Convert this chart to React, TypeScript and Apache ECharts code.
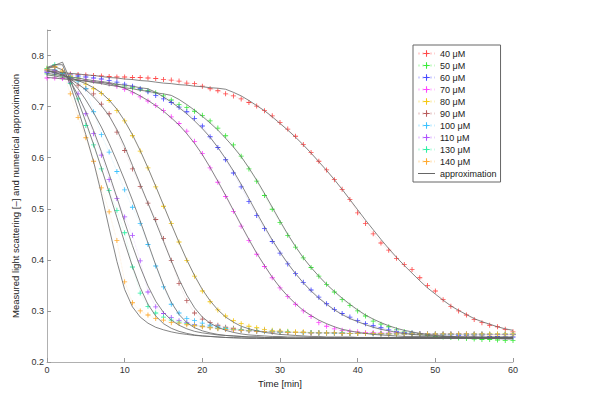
import React, { useEffect, useRef } from 'react';
import * as echarts from 'echarts';

const minutes = [0,1,2,3,4,5,6,7,8,9,10,11,12,13,14,15,16,17,18,19,20,21,22,23,24,25,26,27,28,29,30,31,32,33,34,35,36,37,38,39,40,41,42,43,44,45,46,47,48,49,50,51,52,53,54,55,56,57,58,59,60];

const concentrations = ['40 μM','50 μM','60 μM','70 μM','80 μM','90 μM','100 μM','110 μM','130 μM','140 μM'];

const m40 = [0.770,0.768,0.765,0.764,0.763,0.762,0.761,0.760,0.759,0.758,
 0.758,0.757,0.757,0.756,0.755,0.753,0.752,0.750,0.746,0.745,
 0.740,0.735,0.731,0.725,0.721,0.715,0.708,0.701,0.692,0.682,
 0.669,0.656,0.642,0.626,0.610,0.593,0.576,0.557,0.538,0.518,
 0.492,0.471,0.451,0.433,0.419,0.403,0.391,0.381,0.365,0.350,
 0.339,0.322,0.309,0.300,0.292,0.283,0.277,0.272,0.269,0.264,
 0.259];
const m50 = [0.764,0.762,0.760,0.758,0.756,0.752,0.750,0.748,0.745,0.743,
 0.740,0.737,0.734,0.731,0.727,0.721,0.713,0.704,0.698,0.691,
 0.683,0.672,0.658,0.643,0.625,0.603,0.578,0.554,0.526,0.499,
 0.473,0.448,0.425,0.404,0.385,0.368,0.352,0.337,0.322,0.311,
 0.300,0.290,0.280,0.274,0.269,0.263,0.259,0.257,0.254,0.252,
 0.250,0.249,0.248,0.247,0.246,0.245,0.244,0.244,0.243,0.242,
 0.242];
const m60 = [0.767,0.766,0.764,0.762,0.760,0.758,0.756,0.754,0.751,0.748,
 0.744,0.740,0.735,0.729,0.722,0.715,0.708,0.699,0.690,0.677,
 0.662,0.641,0.620,0.596,0.570,0.543,0.514,0.487,0.461,0.436,
 0.413,0.392,0.373,0.356,0.341,0.327,0.314,0.303,0.295,0.288,
 0.281,0.275,0.271,0.267,0.263,0.260,0.258,0.257,0.256,0.255,
 0.254,0.253,0.253,0.252,0.252,0.251,0.251,0.250,0.250,0.249,
 0.249];
const m70 = [0.756,0.756,0.755,0.754,0.753,0.752,0.750,0.748,0.745,0.740,
 0.734,0.727,0.719,0.711,0.702,0.692,0.680,0.667,0.652,0.632,
 0.608,0.580,0.552,0.524,0.495,0.466,0.438,0.411,0.387,0.365,
 0.345,0.328,0.313,0.300,0.289,0.277,0.270,0.265,0.262,0.260,
 0.259,0.258,0.258,0.257,0.257,0.257,0.256,0.256,0.256,0.256,
 0.255,0.255,0.255,0.255,0.255,0.254,0.254,0.254,0.254,0.254,
 0.254];
const m80 = [0.775,0.778,0.768,0.760,0.752,0.744,0.735,0.726,0.712,0.692,
 0.672,0.643,0.613,0.580,0.543,0.505,0.471,0.435,0.399,0.368,
 0.339,0.318,0.302,0.290,0.281,0.275,0.270,0.267,0.264,0.262,
 0.261,0.260,0.259,0.259,0.258,0.258,0.257,0.257,0.257,0.256,
 0.256,0.256,0.256,0.255,0.255,0.255,0.255,0.255,0.254,0.254,
 0.254,0.254,0.254,0.254,0.253,0.253,0.253,0.253,0.253,0.253,
 0.253];
const m90 = [0.772,0.770,0.762,0.752,0.742,0.735,0.725,0.705,0.686,0.650,
 0.614,0.578,0.544,0.511,0.479,0.442,0.399,0.354,0.320,0.296,
 0.284,0.277,0.272,0.268,0.266,0.264,0.262,0.261,0.260,0.259,
 0.259,0.258,0.258,0.258,0.257,0.257,0.257,0.257,0.256,0.256,
 0.256,0.256,0.256,0.255,0.255,0.255,0.255,0.255,0.255,0.255,
 0.254,0.254,0.254,0.254,0.254,0.254,0.254,0.254,0.254,0.254,
 0.254];
const m100 = [0.770,0.772,0.765,0.757,0.750,0.735,0.690,0.645,0.611,0.573,
 0.537,0.503,0.471,0.430,0.388,0.347,0.313,0.296,0.285,0.281,
 0.276,0.272,0.269,0.266,0.264,0.262,0.261,0.260,0.259,0.259,
 0.258,0.258,0.258,0.257,0.257,0.257,0.257,0.256,0.256,0.256,
 0.256,0.256,0.255,0.255,0.255,0.255,0.255,0.255,0.255,0.255,
 0.255,0.254,0.254,0.254,0.254,0.254,0.254,0.254,0.254,0.254,
 0.254];
const m110 = [0.768,0.770,0.762,0.748,0.725,0.686,0.647,0.605,0.557,0.520,
 0.484,0.448,0.398,0.337,0.308,0.295,0.287,0.281,0.277,0.273,
 0.270,0.268,0.266,0.264,0.263,0.262,0.261,0.260,0.260,0.259,
 0.259,0.258,0.258,0.258,0.257,0.257,0.257,0.257,0.257,0.256,
 0.256,0.256,0.256,0.256,0.256,0.256,0.255,0.255,0.255,0.255,
 0.255,0.255,0.255,0.255,0.255,0.255,0.255,0.254,0.254,0.254,
 0.254];
const m130 = [0.775,0.782,0.766,0.745,0.715,0.663,0.625,0.578,0.536,0.497,
 0.453,0.386,0.335,0.309,0.296,0.288,0.282,0.278,0.275,0.272,
 0.270,0.268,0.266,0.265,0.264,0.263,0.262,0.261,0.260,0.260,
 0.259,0.259,0.258,0.258,0.258,0.257,0.257,0.257,0.257,0.256,
 0.256,0.256,0.256,0.256,0.256,0.255,0.255,0.255,0.255,0.255,
 0.255,0.255,0.255,0.255,0.255,0.255,0.255,0.255,0.255,0.255,
 0.255];
const m140 = [0.772,0.778,0.770,0.725,0.679,0.639,0.593,0.541,0.494,0.438,
 0.357,0.316,0.300,0.292,0.285,0.282,0.277,0.276,0.273,0.271,
 0.269,0.267,0.265,0.264,0.263,0.262,0.261,0.260,0.260,0.259,
 0.259,0.258,0.258,0.258,0.257,0.257,0.257,0.257,0.256,0.256,
 0.256,0.256,0.256,0.256,0.255,0.255,0.255,0.255,0.255,0.255,
 0.255,0.255,0.255,0.255,0.255,0.255,0.255,0.255,0.255,0.255,
 0.255];

const a40 = [0.770,0.768,0.767,0.765,0.764,0.762,0.761,0.759,0.757,0.756,
 0.754,0.753,0.751,0.750,0.748,0.746,0.745,0.743,0.742,0.740,
 0.739,0.737,0.736,0.734,0.728,0.721,0.712,0.702,0.692,0.680,
 0.667,0.654,0.640,0.625,0.609,0.592,0.575,0.557,0.538,0.518,
 0.498,0.478,0.459,0.440,0.422,0.405,0.389,0.374,0.359,0.345,
 0.333,0.321,0.310,0.301,0.293,0.285,0.279,0.274,0.269,0.265,
 0.262];
const a50 = [0.762,0.760,0.757,0.755,0.752,0.750,0.747,0.745,0.742,0.740,
 0.737,0.735,0.732,0.730,0.727,0.725,0.722,0.714,0.704,0.693,
 0.681,0.668,0.654,0.638,0.621,0.602,0.580,0.556,0.530,0.503,
 0.476,0.450,0.426,0.404,0.385,0.368,0.352,0.338,0.325,0.313,
 0.302,0.292,0.284,0.277,0.271,0.266,0.262,0.259,0.256,0.254,
 0.252,0.251,0.250,0.249,0.248,0.247,0.247,0.246,0.246,0.245,
 0.245];
const a60 = [0.765,0.763,0.760,0.758,0.756,0.753,0.751,0.749,0.747,0.744,
 0.742,0.740,0.737,0.735,0.728,0.719,0.709,0.698,0.686,0.672,
 0.657,0.640,0.620,0.598,0.574,0.548,0.520,0.492,0.465,0.439,
 0.415,0.393,0.373,0.355,0.339,0.325,0.313,0.302,0.293,0.285,
 0.279,0.273,0.268,0.264,0.261,0.258,0.256,0.254,0.253,0.252,
 0.251,0.250,0.250,0.249,0.249,0.249,0.248,0.248,0.248,0.248,
 0.248];
const a70 = [0.757,0.756,0.754,0.753,0.751,0.750,0.748,0.747,0.745,0.741,
 0.736,0.729,0.721,0.712,0.702,0.691,0.678,0.664,0.647,0.628,
 0.606,0.581,0.554,0.526,0.497,0.468,0.440,0.413,0.389,0.366,
 0.346,0.329,0.314,0.301,0.291,0.282,0.275,0.269,0.264,0.261,
 0.258,0.256,0.254,0.253,0.252,0.251,0.250,0.250,0.250,0.250,
 0.249,0.249,0.249,0.249,0.249,0.249,0.249,0.249,0.249,0.249,
 0.249];
const a80 = [0.770,0.766,0.762,0.757,0.751,0.745,0.737,0.727,0.713,0.695,
 0.672,0.645,0.614,0.580,0.544,0.507,0.470,0.434,0.400,0.369,
 0.342,0.320,0.302,0.288,0.278,0.270,0.265,0.261,0.258,0.256,
 0.254,0.253,0.252,0.251,0.250,0.250,0.249,0.249,0.249,0.249,
 0.248,0.248,0.248,0.248,0.248,0.248,0.248,0.248,0.248,0.248,
 0.248,0.248,0.248,0.248,0.248,0.248,0.248,0.248,0.248,0.248,
 0.248];
const a90 = [0.770,0.767,0.762,0.754,0.744,0.733,0.719,0.702,0.682,0.655,
 0.622,0.585,0.548,0.511,0.474,0.436,0.398,0.362,0.331,0.306,
 0.288,0.276,0.268,0.262,0.258,0.255,0.253,0.252,0.251,0.250,
 0.250,0.249,0.249,0.249,0.248,0.248,0.248,0.248,0.248,0.248,
 0.248,0.248,0.248,0.248,0.248,0.248,0.248,0.248,0.248,0.248,
 0.248,0.248,0.248,0.248,0.248,0.248,0.248,0.248,0.248,0.248,
 0.248];
const a100 = [0.772,0.772,0.765,0.752,0.735,0.713,0.688,0.660,0.628,0.593,
 0.556,0.517,0.476,0.433,0.390,0.350,0.317,0.293,0.277,0.267,
 0.261,0.257,0.254,0.252,0.251,0.250,0.249,0.249,0.248,0.248,
 0.248,0.247,0.247,0.247,0.247,0.247,0.247,0.247,0.247,0.247,
 0.247,0.247,0.247,0.247,0.247,0.247,0.247,0.247,0.247,0.247,
 0.247,0.247,0.247,0.247,0.247,0.247,0.247,0.247,0.247,0.247,
 0.247];
const a110 = [0.775,0.778,0.772,0.750,0.722,0.690,0.653,0.612,0.568,0.522,
 0.474,0.428,0.386,0.349,0.319,0.297,0.282,0.272,0.265,0.260,
 0.257,0.255,0.253,0.252,0.251,0.250,0.249,0.249,0.248,0.248,
 0.248,0.247,0.247,0.247,0.247,0.247,0.247,0.247,0.247,0.247,
 0.247,0.247,0.247,0.247,0.247,0.247,0.247,0.247,0.247,0.247,
 0.247,0.247,0.247,0.247,0.247,0.247,0.247,0.247,0.247,0.247,
 0.247];
const a130 = [0.775,0.781,0.787,0.752,0.712,0.670,0.626,0.580,0.532,0.483,
 0.434,0.387,0.346,0.313,0.290,0.275,0.266,0.260,0.256,0.253,
 0.251,0.250,0.249,0.248,0.248,0.247,0.247,0.247,0.246,0.246,
 0.246,0.246,0.246,0.246,0.246,0.246,0.246,0.246,0.246,0.246,
 0.246,0.246,0.246,0.246,0.246,0.246,0.246,0.246,0.246,0.246,
 0.246,0.246,0.246,0.246,0.246,0.246,0.246,0.246,0.246,0.246,
 0.246];
const a140 = [0.777,0.782,0.782,0.742,0.695,0.645,0.592,0.530,0.462,0.397,
 0.342,0.308,0.288,0.276,0.268,0.263,0.259,0.256,0.254,0.252,
 0.251,0.250,0.249,0.248,0.247,0.247,0.246,0.246,0.246,0.246,
 0.246,0.246,0.246,0.246,0.246,0.246,0.246,0.246,0.246,0.246,
 0.246,0.246,0.246,0.246,0.246,0.246,0.246,0.246,0.246,0.246,
 0.246,0.246,0.246,0.246,0.246,0.246,0.246,0.246,0.246,0.246,
 0.246];

const measured = [m40, m50, m60, m70, m80, m90, m100, m110, m130, m140];
const approximations = [a40, a50, a60, a70, a80, a90, a100, a110, a130, a140];

const markerColors = ['#ff4a4a', '#3bea3b', '#4a4aff', '#ff45ff', '#f5c814', '#b85c5c', '#3cc2ff', '#ae55ff', '#2ef0a4', '#ffaa30'];
const FONT = 'Liberation Sans, Arial, Helvetica, sans-serif';
const PLUS = 'path://M2.5,0H3.5V2.5H6V3.5H3.5V6H2.5V3.5H0V2.5H2.5Z';

export default function App() {
  const ref = useRef<HTMLDivElement>(null);
  useEffect(() => {
    document.body.style.margin = '0';
    const chart = echarts.init(ref.current as HTMLDivElement, null, { renderer: 'svg' });
    const series: any[] = [];
    measured.forEach((vals, i) => {
      series.push({
        name: concentrations[i],
        type: 'line',
        data: minutes.map((t, k) => [t, vals[k]]),
        symbol: PLUS,
        symbolSize: 5,
        showSymbol: true,
        showAllSymbol: true,
        silent: true,
        lineStyle: { type: 'dotted', width: 0.7, color: markerColors[i], opacity: 0.25 },
        itemStyle: { color: markerColors[i] },
        z: 2,
      });
    });
    approximations.forEach((vals) => {
      series.push({
        name: 'approximation',
        type: 'line',
        data: minutes.map((t, k) => [t, vals[k]]),
        symbol: 'none',
        silent: true,
        lineStyle: { color: '#666666', width: 0.8 },
        itemStyle: { color: '#666666' },
        z: 3,
      });
    });
    const option: any = {
      animation: false,
      backgroundColor: '#ffffff',
      textStyle: { fontFamily: FONT },
      grid: { left: 47, right: 87, top: 30, bottom: 45 },
      legend: {
        data: [
          ...concentrations,
          { name: 'approximation', itemStyle: { opacity: 0 }, lineStyle: { color: '#666666', width: 1, opacity: 1 } },
        ],
        orient: 'vertical',
        left: 413,
        top: 45,
        padding: [4, 4, 4, 4],
        itemGap: 3,
        itemWidth: 17,
        itemHeight: 8,
        borderColor: '#666666',
        borderWidth: 1,
        backgroundColor: '#ffffff',
        textStyle: { fontSize: 9, color: '#222', fontFamily: FONT, lineHeight: 9 },
        selectedMode: false,
      },
      xAxis: {
        type: 'value',
        min: 0,
        max: 60,
        interval: 10,
        name: 'Time [min]',
        nameLocation: 'middle',
        nameGap: 9,
        nameTextStyle: { fontSize: 9.5, color: '#222', fontFamily: FONT },
        axisLine: { lineStyle: { color: '#b0b0b0', width: 1 } },
        axisTick: { inside: true, length: 4, lineStyle: { color: '#999' } },
        axisLabel: { fontSize: 9, color: '#333', margin: 3, fontFamily: FONT },
        splitLine: { show: false },
      },
      yAxis: {
        type: 'value',
        min: 0.2,
        max: 0.85,
        interval: 0.1,
        name: 'Measured light scattering [–] and numerical approximation',
        nameLocation: 'middle',
        nameGap: 13,
        nameRotate: 90,
        nameTextStyle: { fontSize: 9.5, color: '#222', fontFamily: FONT },
        axisLine: { show: true, lineStyle: { color: '#b0b0b0', width: 1 } },
        axisTick: { show: true, inside: true, length: 4, lineStyle: { color: '#999' } },
        axisLabel: {
          fontSize: 9,
          color: '#333',
          margin: 3,
          fontFamily: FONT,
          formatter: (v: number) => (Math.abs(v * 10 - Math.round(v * 10)) < 1e-6 ? v.toFixed(1) : ''),
        },
        splitLine: { show: false },
      },
      series,
    };
    chart.setOption(option);
    return () => chart.dispose();
  }, []);
  return <div ref={ref} style={{ width: 600, height: 407, background: '#fff' }} />;
}
